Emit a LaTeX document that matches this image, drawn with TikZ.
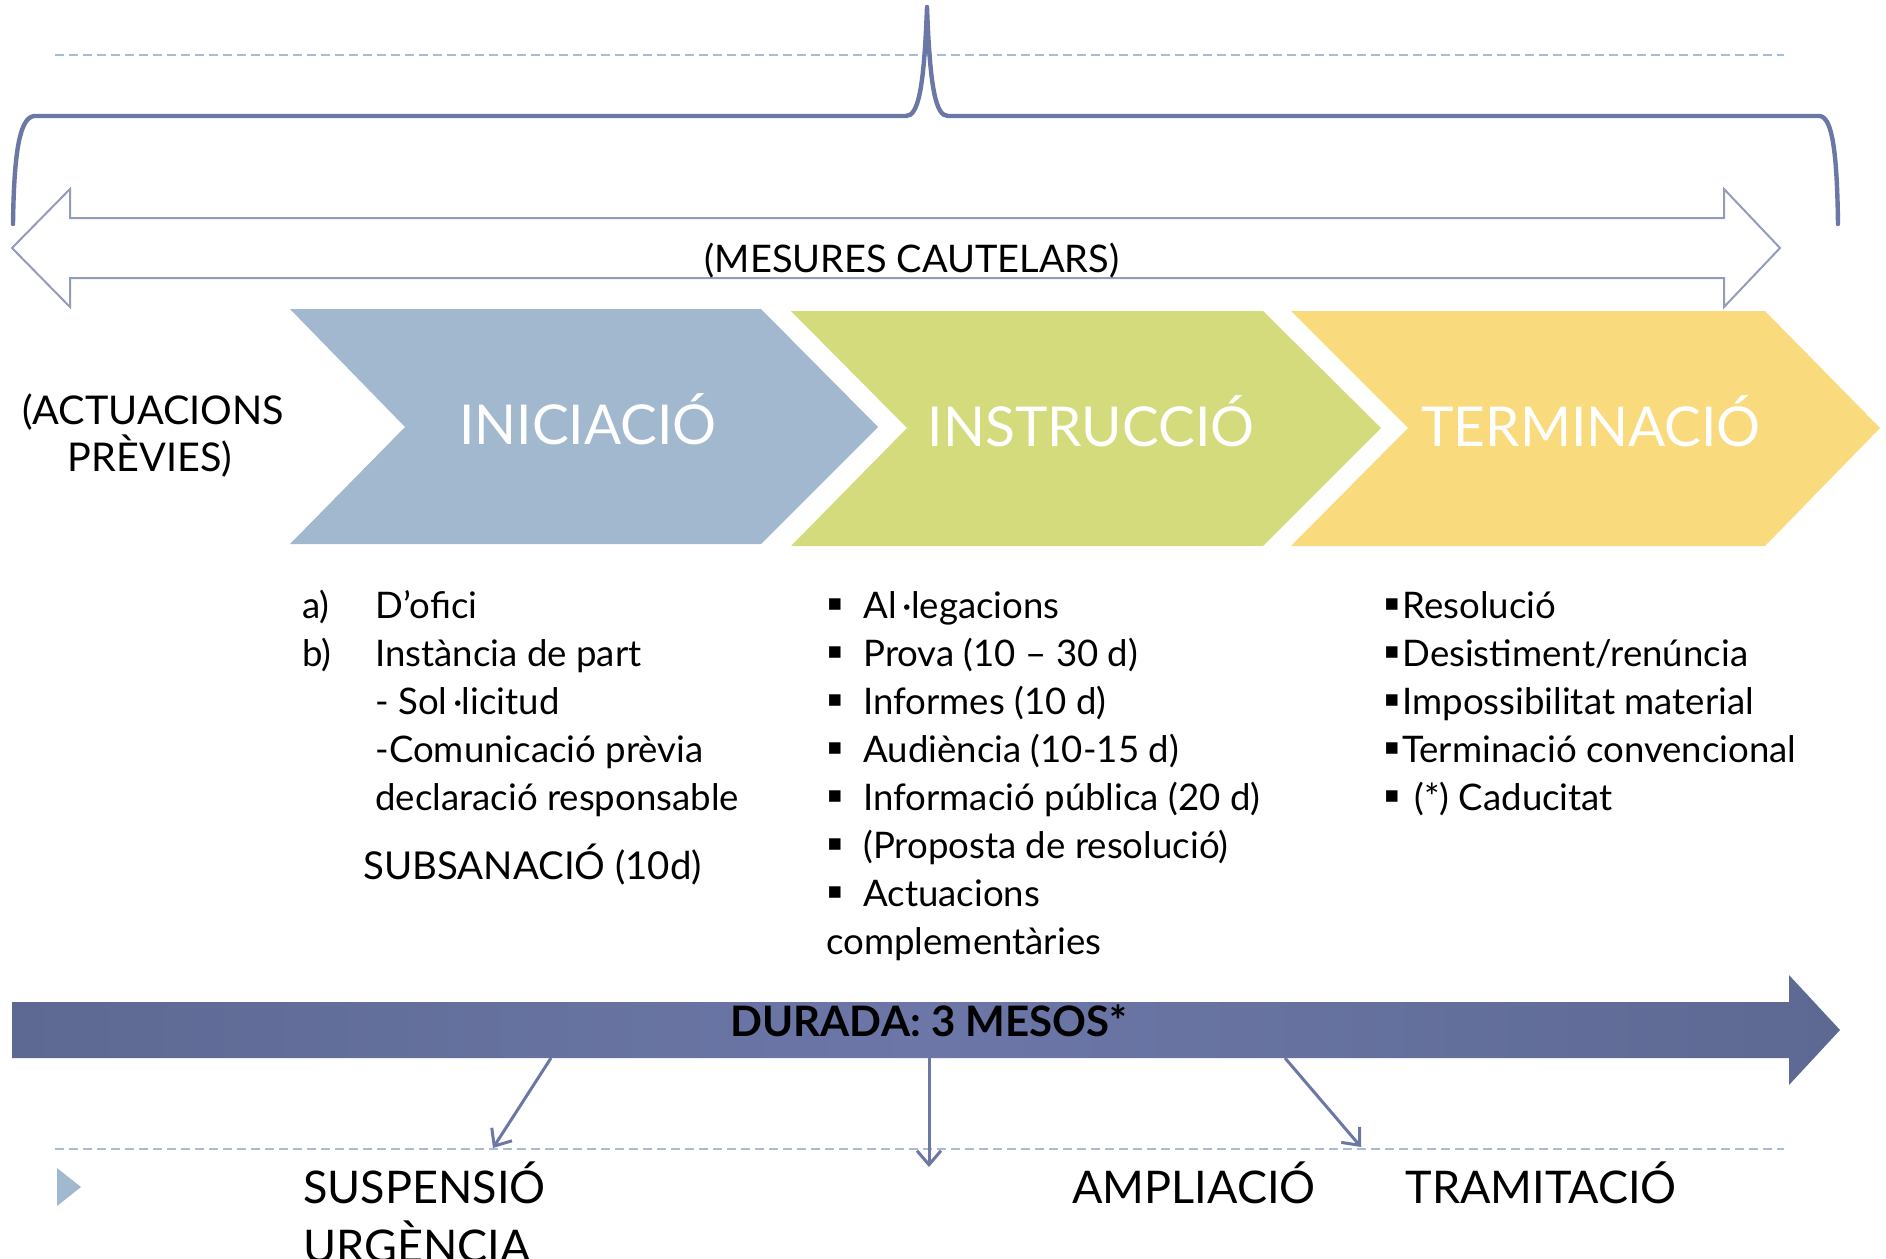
\documentclass[tikz,border=0pt]{standalone}
\usepackage{fontspec}
\setmainfont{Lato}
\newfontfamily\symf{DejaVu Sans}
\usetikzlibrary{arrows.meta}
\definecolor{chblue}{HTML}{A2B8CE}
\definecolor{chgreen}{HTML}{D4DB7D}
\definecolor{chyellow}{HTML}{F9DA7D}
\definecolor{bracecol}{HTML}{6B77A5}
\definecolor{dblcol}{HTML}{939DBA}
\definecolor{dashcol}{HTML}{A9BCD0}
\definecolor{durdark}{HTML}{5D6992}
\definecolor{durlight}{HTML}{6C77A8}
\begin{document}
\begin{tikzpicture}[x=0.5pt,y=-0.5pt,
  titletext/.style={text=white, font=\fontsize{27.5pt}{32pt}\selectfont, inner sep=0, anchor=base},
  itemtext/.style={font=\fontsize{18.3pt}{21pt}\selectfont, inner sep=0, anchor=base west},
  bullet/.style={font=\symf\fontsize{11.5pt}{14pt}\selectfont, inner sep=0, anchor=center},
  lowtext/.style={font=\fontsize{22.5pt}{26pt}\selectfont, inner sep=0, anchor=base west},
  dashline/.style={dashcol, line width=1pt, dash pattern=on 4.5pt off 2.5pt},
  smallarrow/.style={bracecol, line width=1.5pt, -{Straight Barb[length=7pt,width=12pt]}}]
\useasboundingbox (0,0) rectangle (1886,1259);
\clip (0,0) rectangle (1886,1259);
% dashed guide lines
\draw[dashline] (55,55) -- (1784,55);
\draw[dashline] (55,1149) -- (1784,1149);
% brace
\draw[bracecol, line width=2.2pt, line join=round, line cap=round]
  (13,224) .. controls (14,150) and (20,118) .. (34,116) -- (906,116)
  .. controls (918,116) and (924,90) .. (927,7)
  .. controls (930,90) and (936,116) .. (948,116) -- (1820,116)
  .. controls (1832,118) and (1837,150) .. (1838,224);
% double arrow
\draw[dblcol, line width=1pt, line join=miter]
  (12,248) -- (70,189) -- (70,218) -- (1724,218) -- (1724,189) -- (1780,248)
  -- (1724,307) -- (1724,278) -- (70,278) -- (70,307) -- cycle;
\node[font=\fontsize{19pt}{22pt}\selectfont, inner sep=0, anchor=base] (mes) at (912,272) {(MESURES CAUTELARS)};
% chevrons
\fill[chblue] (290,309) -- (761,309) -- (878,427) -- (761,544) -- (290,544) -- (405,427) -- cycle;
\fill[chgreen] (791,311) -- (1263,311) -- (1381,428) -- (1263,546) -- (791,546) -- (907,428) -- cycle;
\fill[chyellow] (1291,311) -- (1765,311) -- (1880,428) -- (1765,546) -- (1291,546) -- (1408,428) -- cycle;
\node[titletext] (ini) at (588,444) {INICIACIÓ};
\node[titletext] (ins) at (1091,446) {INSTRUCCIÓ};
\node[titletext] (ter) at (1591,446) {TERMINACIÓ};
% previous actions
\node[font=\fontsize{19.8pt}{22pt}\selectfont, inner sep=0, anchor=base] (act1) at (153,424) {(ACTUACIONS};
\node[font=\fontsize{19.8pt}{22pt}\selectfont, inner sep=0, anchor=base] (act2) at (150,471) {PRÈVIES)};
% left list
\node[itemtext] (la) at (302,618) {a)};
\node[itemtext] (l1) at (375,618) {D’ofici};
\node[itemtext] (lb) at (302,666) {b)};
\node[itemtext] (l2) at (375,666) {Instància de part};
\node[itemtext] (l3) at (375,714) {- Sol\,·licitud};
\node[itemtext] (l4) at (375,762) {-Comunicació prèvia};
\node[itemtext] (l5) at (375,810) {declaració responsable};
\node[itemtext, font=\fontsize{19.2pt}{22pt}\selectfont] (l6) at (363,879) {SUBSANACIÓ (10d)};
% middle list
\node[bullet] (mb1) at (835,605) {▪};
\node[bullet] (mb2) at (835,653) {▪};
\node[bullet] (mb3) at (835,701) {▪};
\node[bullet] (mb4) at (835,749) {▪};
\node[bullet] (mb5) at (835,797) {▪};
\node[bullet] (mb6) at (835,845) {▪};
\node[bullet] (mb7) at (835,893) {▪};
\node[itemtext] (m1) at (863,618) {Al\,·legacions};
\node[itemtext] (m2) at (863,666) {Prova (10 – 30 d)};
\node[itemtext] (m3) at (863,714) {Informes (10 d)};
\node[itemtext] (m4) at (863,762) {Audiència (10-15 d)};
\node[itemtext] (m5) at (863,810) {Informació pública (20 d)};
\node[itemtext] (m6) at (863,858) {(Proposta de resolució)};
\node[itemtext] (m7) at (863,906) {Actuacions};
\node[itemtext] (m8) at (826,954) {complementàries};
% right list
\node[bullet] (rb1) at (1392,605) {▪};
\node[bullet] (rb2) at (1392,653) {▪};
\node[bullet] (rb3) at (1392,701) {▪};
\node[bullet] (rb4) at (1392,749) {▪};
\node[bullet] (rb5) at (1392,797) {▪};
\node[itemtext] (r1) at (1402,618) {Resolució};
\node[itemtext] (r2) at (1402,666) {Desistiment/renúncia};
\node[itemtext] (r3) at (1402,714) {Impossibilitat material};
\node[itemtext] (r4) at (1402,762) {Terminació convencional};
\node[itemtext] (r5) at (1414,810) {(*) Caducitat};
% duration arrow
\shade[left color=durdark, right color=durdark, middle color=durlight]
  (12,1002) -- (1789,1002) -- (1789,975) -- (1840,1030) -- (1789,1085) -- (1789,1058) -- (12,1058) -- cycle;
\node[font=\bfseries\fontsize{21pt}{24pt}\selectfont, inner sep=0, anchor=base] (dur) at (929,1036) {DURADA: 3 MESOS*};
\coordinate (s1) at (551,1058);
\coordinate (e1) at (493,1148);
\coordinate (s2) at (929,1058);
\coordinate (e2) at (929,1167);
\coordinate (s3) at (1285,1058);
\coordinate (e3) at (1361,1147);
\draw[smallarrow] (s1) -- (e1);
\draw[smallarrow] (s2) -- (e2);
\draw[smallarrow] (s3) -- (e3);
% bottom
\fill[chblue] (57,1168) -- (81,1187) -- (57,1206) -- cycle;
\node[lowtext] (sus) at (303,1203) {SUSPENSIÓ};
\node[lowtext] (urg) at (303,1262) {URGÈNCIA};
\node[lowtext] (amp) at (1072,1203) {AMPLIACIÓ};
\node[lowtext] (tra) at (1405,1203) {TRAMITACIÓ};
\end{tikzpicture}
\end{document}
